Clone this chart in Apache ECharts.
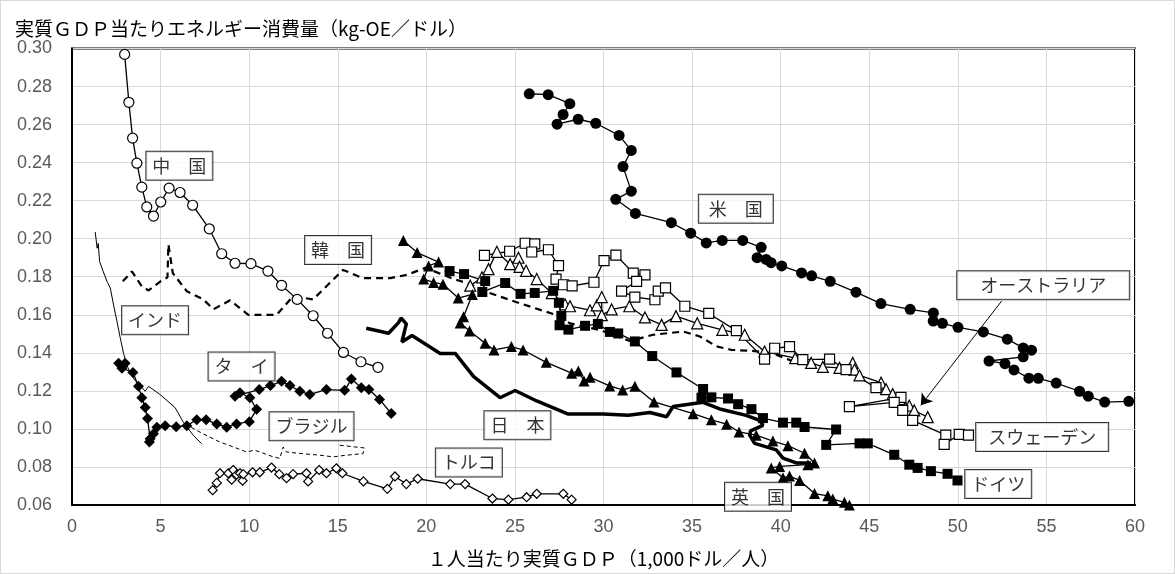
<!DOCTYPE html>
<html>
<head>
<meta charset="utf-8">
<title>実質GDP当たりエネルギー消費量</title>
<script src="https://cdn.jsdelivr.net/npm/echarts@6/dist/echarts.min.js"></script>
<style>
  html, body { margin: 0; padding: 0; background: #fff; }
  #chart { width: 1175px; height: 574px; box-sizing: border-box; border: 1px solid #d9d9d9; }
</style>
</head>
<body>
<div id="chart"></div>
<script>
// 軸目盛
const xTicks = [0, 60, 5];
const yTicks = [0.06, 0.30, 0.02];

// 各国データ [1人当たり実質GDP(千ドル), 実質GDP当たりエネルギー消費量]
const china = [[2.97,0.2969],[3.21,0.2717],[3.42,0.2529],[3.66,0.2397],[3.94,0.2271],[4.22,0.2167],[4.60,0.2119],[5.01,0.2193],[5.48,0.2266],[6.10,0.2243],[6.81,0.2176],[7.75,0.2052],[8.45,0.1921],[9.20,0.1871],[10.10,0.1869],[11.06,0.1830],[11.83,0.1755],[12.71,0.1681],[13.61,0.1595],[14.42,0.1503],[15.32,0.1402],[16.31,0.1353],[17.27,0.1324]];
const korea = [[2.87,0.1776],[3.38,0.1828],[3.94,0.1750],[4.32,0.1728],[5.00,0.1776],[5.39,0.1797],[5.44,0.1970],[5.69,0.1819],[6.48,0.1724],[7.41,0.1681],[7.98,0.1629],[8.92,0.1676],[9.95,0.1600],[11.55,0.1600],[12.48,0.1698],[13.61,0.1681],[14.36,0.1750],[15.30,0.1836],[16.40,0.1793],[17.97,0.1793],[18.90,0.1810],[19.95,0.1847],[21.50,0.1790],[22.50,0.1760],[23.42,0.1719],[25.30,0.1660],[27.36,0.1598],[28.11,0.1555],[29.80,0.1520],[31.49,0.1462],[32.80,0.1495],[34.50,0.1512],[35.44,0.1486],[36.38,0.1434],[37.20,0.1416],[38.40,0.1410],[39.00,0.1405],[39.75,0.1390],[40.70,0.1355]];
const india = [[1.31,0.2035],[1.42,0.1950],[1.48,0.1975],[1.56,0.1880],[1.75,0.1830],[2.00,0.1770],[2.16,0.1741],[2.35,0.1650],[2.53,0.1569],[2.72,0.1480],[2.91,0.1397],[3.10,0.1335],[3.29,0.1293],[3.55,0.1255],[3.85,0.1228],[4.13,0.1198],[4.32,0.1224],[4.97,0.1181],[5.82,0.1112],[6.29,0.1034],[6.85,0.0966],[7.32,0.0922]];
const thai = [[2.63,0.1345],[3.00,0.1345],[2.82,0.1319],[3.44,0.1297],[3.75,0.1224],[3.94,0.1164],[4.13,0.1112],[4.26,0.1055],[4.41,0.0948],[4.37,0.0931],[4.60,0.0974],[4.79,0.1009],[5.26,0.1017],[5.88,0.1012],[6.48,0.1017],[7.04,0.1048],[7.57,0.1048],[8.17,0.1026],[8.73,0.1009],[9.29,0.1026],[10.01,0.1038],[10.42,0.1103],[10.04,0.1164],[9.48,0.1190],[9.20,0.1172],[10.57,0.1207],[11.20,0.1228],[11.83,0.1250],[12.30,0.1228],[12.86,0.1198],[13.42,0.1181],[14.36,0.1207],[15.39,0.1203],[15.77,0.1262],[16.33,0.1216],[16.76,0.1207],[17.36,0.1155],[18.02,0.1081]];
const brazil = [[6.38,0.1026],[7.41,0.0974],[8.35,0.0931],[9.40,0.0895],[9.85,0.0879],[10.30,0.0888],[10.60,0.0879],[11.36,0.0853],[11.73,0.0845],[11.92,0.0905],[12.10,0.0879],[12.86,0.0871],[13.98,0.0862],[14.74,0.0853],[15.50,0.0862],[16.43,0.0870],[16.50,0.0900],[15.11,0.0914]];
const turkey = [[7.94,0.0678],[8.17,0.0716],[8.35,0.0767],[8.82,0.0767],[9.01,0.0733],[9.10,0.0784],[9.29,0.0759],[9.48,0.0767],[9.63,0.0728],[9.67,0.0762],[10.19,0.0772],[10.60,0.0772],[11.26,0.0797],[11.70,0.0762],[12.11,0.0741],[12.48,0.0762],[13.23,0.0767],[13.33,0.0724],[13.95,0.0784],[14.36,0.0767],[14.92,0.0793],[15.26,0.0767],[16.45,0.0724],[17.80,0.0685],[18.23,0.0750],[18.87,0.0710],[19.51,0.0738],[21.35,0.0710],[22.19,0.0710],[23.73,0.0634],[24.63,0.0628],[25.66,0.0641],[26.23,0.0659],[27.73,0.0659],[28.20,0.0628]];
const japan = [[16.61,0.1529],[17.87,0.1503],[18.44,0.1560],[18.57,0.1583],[18.87,0.1552],[18.62,0.1457],[19.19,0.1491],[20.78,0.1397],[21.63,0.1397],[22.66,0.1276],[24.16,0.1164],[25.01,0.1202],[26.23,0.1147],[28.01,0.1078],[29.98,0.1078],[31.40,0.1072],[32.62,0.1086],[33.56,0.1064],[33.93,0.1118],[35.62,0.1140],[36.56,0.1105],[38.06,0.1071],[38.81,0.1045],[39.00,0.1019],[38.30,0.0990],[38.25,0.0967],[38.53,0.0924],[39.75,0.0890],[40.13,0.0847],[40.88,0.0821],[41.72,0.0821]];
const uk = [[18.70,0.1990],[19.48,0.1927],[20.69,0.1877],[20.13,0.1857],[19.85,0.1788],[20.41,0.1770],[20.94,0.1760],[21.80,0.1688],[22.60,0.1707],[22.10,0.1590],[21.91,0.1557],[22.44,0.1515],[23.32,0.1450],[23.82,0.1415],[24.80,0.1433],[25.46,0.1415],[26.77,0.1350],[28.20,0.1293],[28.58,0.1305],[28.90,0.1252],[29.24,0.1271],[30.35,0.1226],[31.08,0.1205],[31.77,0.1224],[32.85,0.1142],[35.06,0.1080],[36.09,0.1048],[36.95,0.1025],[37.65,0.0984],[38.62,0.0967],[39.56,0.0936],[40.41,0.0912],[41.35,0.0872],[41.91,0.0821],[41.54,0.0812],[39.94,0.0803],[39.47,0.0795],[40.13,0.0743],[40.50,0.0752],[41.07,0.0729],[41.91,0.0660],[42.66,0.0648],[42.94,0.0631],[43.60,0.0614],[43.88,0.0600]];
const usa = [[25.81,0.2762],[26.88,0.2757],[28.10,0.2710],[27.72,0.2653],[27.38,0.2602],[28.57,0.2628],[29.56,0.2607],[30.88,0.2543],[31.57,0.2464],[31.10,0.2379],[31.57,0.2250],[30.69,0.2207],[31.80,0.2133],[33.83,0.2084],[34.92,0.2029],[35.80,0.1978],[36.70,0.1991],[37.86,0.1991],[38.90,0.1955],[38.67,0.1900],[39.18,0.1891],[39.46,0.1874],[40.06,0.1857],[41.18,0.1820],[41.75,0.1805],[42.80,0.1776],[44.25,0.1719],[45.66,0.1659],[47.31,0.1629],[48.62,0.1610],[48.61,0.1567],[49.13,0.1555],[50.01,0.1534],[51.44,0.1510],[52.79,0.1472],[53.69,0.1426],[54.16,0.1414],[53.69,0.1379],[51.76,0.1357],[52.66,0.1343],[53.17,0.1310],[54.01,0.1267],[54.54,0.1266],[55.55,0.1241],[56.87,0.1198],[57.36,0.1172],[58.29,0.1141],[59.65,0.1145]];
const australia = [[22.48,0.1753],[23.14,0.1797],[23.51,0.1840],[23.98,0.1931],[24.73,0.1866],[25.20,0.1900],[25.26,0.1852],[25.63,0.1831],[26.23,0.1788],[27.08,0.1714],[27.83,0.1655],[28.11,0.1645],[29.24,0.1624],[29.62,0.1650],[29.90,0.1693],[29.90,0.1598],[30.46,0.1628],[31.46,0.1645],[32.34,0.1586],[33.28,0.1547],[34.09,0.1593],[35.29,0.1555],[36.71,0.1521],[37.97,0.1495],[39.09,0.1407],[40.82,0.1372],[41.72,0.1347],[42.38,0.1326],[43.32,0.1321],[44.07,0.1347],[44.17,0.1312],[44.45,0.1281],[45.67,0.1243],[45.95,0.1209],[46.32,0.1183],[46.70,0.1157],[47.26,0.1122],[47.54,0.1097],[48.30,0.1062]];
const sweden = [[23.28,0.1912],[24.70,0.1934],[25.58,0.1976],[26.12,0.1973],[25.95,0.1930],[26.89,0.1942],[27.46,0.1858],[27.32,0.1788],[27.74,0.1758],[28.23,0.1752],[29.46,0.1771],[30.03,0.1885],[30.70,0.1914],[31.68,0.1819],[32.34,0.1810],[31.87,0.1776],[31.02,0.1724],[31.77,0.1693],[32.90,0.1679],[33.09,0.1724],[33.50,0.1741],[34.59,0.1645],[35.94,0.1607],[37.50,0.1517],[39.09,0.1367],[39.66,0.1424],[40.50,0.1433],[41.25,0.1364],[42.76,0.1367],[43.69,0.1312],[45.38,0.1217],[46.79,0.1166],[43.88,0.1117],[46.41,0.1140],[46.89,0.1097],[47.45,0.1045],[49.32,0.0967],[49.23,0.0919],[50.08,0.0971],[50.60,0.0967]];
const germany = [[21.31,0.1830],[22.13,0.1814],[23.32,0.1777],[23.16,0.1720],[24.45,0.1767],[25.32,0.1710],[26.12,0.1715],[27.16,0.1726],[27.48,0.1663],[27.62,0.1594],[27.52,0.1545],[28.02,0.1522],[28.96,0.1542],[29.68,0.1552],[30.36,0.1510],[30.83,0.1502],[31.77,0.1460],[32.75,0.1383],[34.12,0.1297],[35.62,0.1210],[35.53,0.1164],[36.09,0.1166],[37.03,0.1160],[37.60,0.1130],[38.35,0.1104],[39.00,0.1057],[40.13,0.1033],[40.88,0.1033],[41.35,0.1010],[43.13,0.0997],[42.57,0.0916],[44.45,0.0924],[44.92,0.0924],[46.41,0.0864],[47.26,0.0812],[47.73,0.0795],[48.48,0.0778],[49.42,0.0764],[49.98,0.0729]];

// 国名ラベル（データ座標）
const labelNames = ['中　国','韓　国','インド','タ　イ','ブラジル','トルコ','日　本','英　国','米　国','オーストラリア','スウェーデン','ドイツ'];
const labelX = [6.06,15.02,4.69,9.57,13.52,22.40,25.14,38.72,37.47,54.82,54.76,52.28];
const labelY = [0.2384,0.1940,0.1571,0.1328,0.1014,0.0824,0.1019,0.0643,0.2157,0.1755,0.0957,0.0710];
// オーストラリアの引き出し線
const arrowFrom = [52.47, 0.1672];
const arrowTo = [47.91, 0.1124];

const chart = echarts.init(document.getElementById('chart'));

const jpFont = '"Noto Sans CJK JP", sans-serif';
const numFont = '"Liberation Sans", Arial, sans-serif';

function markerLine(name, data, symbol, size, filled) {
    return {
        name: name,
        type: 'line',
        data: data,
        symbol: symbol,
        symbolSize: size,
        showSymbol: true,
        showAllSymbol: true,
        lineStyle: { color: '#000', width: 1.3 },
        itemStyle: {
            color: filled ? '#000' : '#fff',
            borderColor: '#000',
            borderWidth: filled ? 0 : 1.2
        },
        z: 3
    };
}

function plainLine(name, data, width, dash) {
    return {
        name: name,
        type: 'line',
        data: data,
        showSymbol: false,
        symbol: 'none',
        lineStyle: { color: '#000', width: width, type: dash || 'solid' },
        z: 2
    };
}

// ラベルの左右余白（文字数に合わせた枠幅）
const padX = { '米　国': 10, 'オーストラリア': 23, 'スウェーデン': 12 };

const labelData = labelNames.map((n, i) => ({
    name: n,
    value: [labelX[i], labelY[i]],
    label: { padding: [5, padX[n] || 6, 5, padX[n] || 6] }
}));

const option = {
    animation: false,
    backgroundColor: '#fff',
    title: {
        text: '実質ＧＤＰ当たりエネルギー消費量（kg-OE／ドル）',
        left: 9,
        top: 13,
        textStyle: { fontFamily: jpFont, fontSize: 19, fontWeight: 'normal', color: '#000' }
    },
    grid: {
        left: 71, right: 39, top: 47.5, bottom: 63,
        show: true, borderColor: '#000', borderWidth: 2, backgroundColor: 'transparent'
    },
    xAxis: {
        type: 'value',
        min: xTicks[0], max: xTicks[1], interval: xTicks[2],
        name: '１人当たり実質ＧＤＰ（1,000ドル／人）',
        nameLocation: 'middle',
        nameGap: 44,
        nameTextStyle: { fontFamily: jpFont, fontSize: 19, color: '#000' },
        axisLine: { show: true, lineStyle: { color: '#000', width: 2 } },
        axisTick: { show: false },
        axisLabel: { color: '#595959', fontSize: 18, fontFamily: numFont, margin: 13 },
        splitLine: { show: true, lineStyle: { color: '#d9d9d9', width: 1 } }
    },
    yAxis: {
        type: 'value',
        min: yTicks[0], max: yTicks[1], interval: yTicks[2],
        axisLine: { show: true, lineStyle: { color: '#000', width: 2 } },
        axisTick: { show: false },
        axisLabel: {
            color: '#595959', fontSize: 18, fontFamily: numFont, margin: 20,
            formatter: v => v.toFixed(2)
        },
        splitLine: { show: true, lineStyle: { color: '#d9d9d9', width: 1 } }
    },
    series: [
        plainLine('インド', india, 1, 'solid'),
        plainLine('ブラジル', brazil, 1, [4, 3]),
        plainLine('韓国', korea, 2.2, [7, 5]),
        plainLine('日本', japan, 3.5, 'solid'),
        markerLine('中国', china, 'circle', 10, false),
        markerLine('タイ', thai, 'diamond', 11, true),
        markerLine('トルコ', turkey, 'diamond', 9, false),
        markerLine('米国', usa, 'circle', 11, true),
        markerLine('オーストラリア', australia, 'triangle', 11, false),
        markerLine('スウェーデン', sweden, 'rect', 10, false),
        markerLine('ドイツ', germany, 'rect', 10, true),
        markerLine('英国', uk, 'triangle', 11, true),
        {
            name: 'labels',
            type: 'scatter',
            data: labelData,
            symbolSize: 0,
            z: 10,
            label: {
                show: true,
                position: 'inside',
                formatter: '{b}',
                fontFamily: jpFont,
                fontSize: 18,
                lineHeight: 18,
                color: '#000',
                backgroundColor: '#fff',
                borderColor: '#000',
                borderWidth: 1
            },
            markLine: {
                silent: true,
                symbol: ['none', 'arrow'],
                symbolSize: 11,
                label: { show: false },
                lineStyle: { color: '#000', width: 1, type: 'solid' },
                data: [[{ coord: arrowFrom }, { coord: arrowTo }]]
            }
        }
    ]
};

chart.setOption(option);
</script>
</body>
</html>
